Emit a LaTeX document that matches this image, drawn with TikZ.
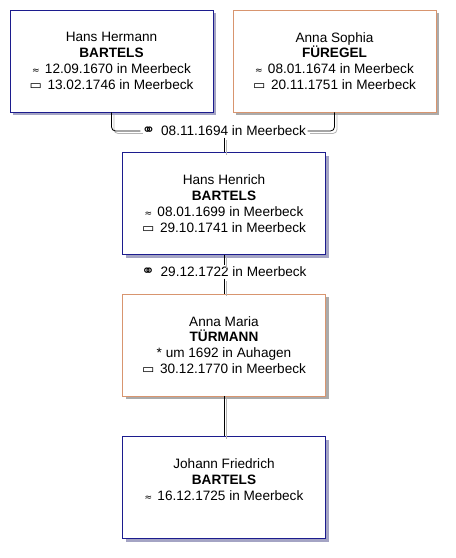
\documentclass[tikz,border=0pt]{standalone}
\usepackage{fontspec}
\setmainfont{Liberation Sans}
\newfontfamily\symfont{DejaVu Sans}
\usetikzlibrary{shadows}
\definecolor{manline}{HTML}{1C1C8E}
\definecolor{womanline}{HTML}{D8956F}
\definecolor{manshadow}{HTML}{A4A4C4}
\definecolor{womanshadow}{HTML}{ABABAB}
\definecolor{lineshadow}{HTML}{B4B4B4}
\newcommand{\tauf}{{\symfont\fontsize{9}{9}\selectfont ≈}\hspace{1.5pt}}
\newcommand{\begr}{{\symfont\fontsize{13}{13}\selectfont ▭}\hspace{2pt}}
\newcommand{\heirat}{{\symfont\fontsize{16}{16}\selectfont ⚭}\hspace{2pt}}
\tikzset{
  person/.style={rectangle, fill=white, line width=0.8pt, minimum width=203pt,
                 minimum height=102pt, align=center, inner sep=0pt,
                 font=\fontsize{13.6}{15.8}\selectfont},
  manbox/.style={person, draw=manline,
                 drop shadow={shadow xshift=3pt, shadow yshift=-3pt, fill=manshadow, opacity=1}},
  womanbox/.style={person, draw=womanline,
                 drop shadow={shadow xshift=3pt, shadow yshift=-3pt, fill=womanshadow, opacity=1}},
  weddate/.style={fill=white, inner sep=1.5pt, font=\fontsize{13.6}{15.8}\selectfont},
  famline/.style={draw=black, line width=0.8pt,
                  preaction={draw=lineshadow, line width=0.8pt,
                             transform canvas={shift={(2.5pt,-2.5pt)}}}}}

\begin{document}
\begin{tikzpicture}[x=1pt, y=-1pt]
  \useasboundingbox (0,0) rectangle (456,558);

  % generation 1
  \node[manbox] (hansherm) at (111.5,61) {Hans Hermann\\\textbf{BARTELS}\\
    \tauf\ 12.09.1670 in Meerbeck\\\begr\ 13.02.1746 in Meerbeck};
  \node[womanbox] (annasoph) at (334.5,61) {Anna Sophia\\\textbf{FÜREGEL}\\
    \tauf\ 08.01.1674 in Meerbeck\\\begr\ 20.11.1751 in Meerbeck};
  \node[weddate] (wed1) at (224,131) {\heirat\ 08.11.1694 in Meerbeck};

  % generation 2
  \node[manbox] (hansheinr) at (224,203.5) {Hans Henrich\\\textbf{BARTELS}\\
    \tauf\ 08.01.1699 in Meerbeck\\\begr\ 29.10.1741 in Meerbeck};
  \node[weddate] (wed2) at (224,272) {\heirat\ 29.12.1722 in Meerbeck};
  \node[womanbox] (annamaria) at (224,345) {Anna Maria\\\textbf{TÜRMANN}\\
    * um 1692 in Auhagen\\\begr\ 30.12.1770 in Meerbeck};

  % generation 3
  \node[manbox] (johfried) at (224,487.5) {Johann Friedrich\\\textbf{BARTELS}\\
    \tauf\ 16.12.1725 in Meerbeck\\\mbox{}};

  \draw[famline, rounded corners=4pt] (hansherm.south) |- (wed1.west);
  \draw[famline, rounded corners=4pt] (annasoph.south) |- (wed1.east);
  \draw[famline] (wed1.south) -- (hansheinr.north);
  \draw[famline] (hansheinr.south) -- (wed2.north);
  \draw[famline] (wed2.south) -- (annamaria.north);
  \draw[famline] (annamaria.south) -- (johfried.north);
\end{tikzpicture}
\end{document}
